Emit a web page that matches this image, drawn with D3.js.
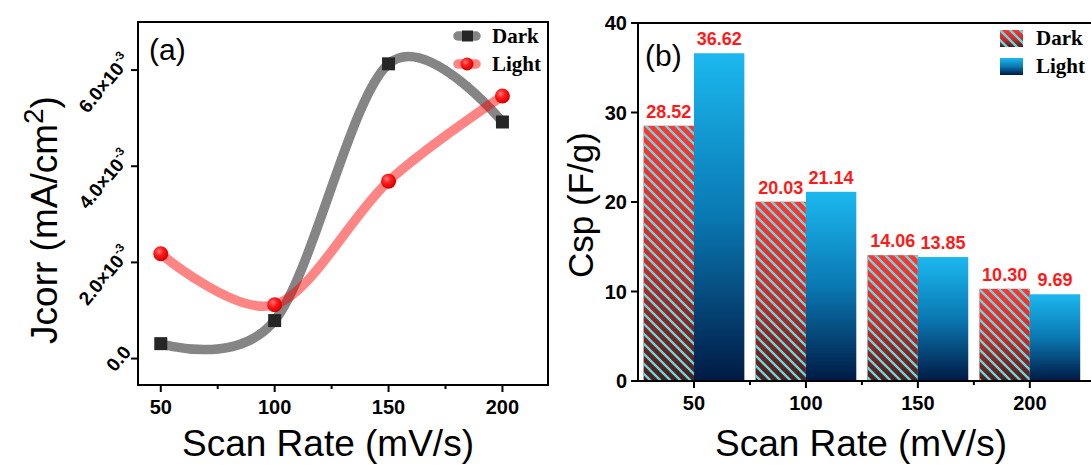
<!DOCTYPE html>
<html>
<head>
  <meta charset="utf-8">
  <title>Jcorr and Csp vs scan rate</title>
  <style>
  body {
    margin: 0;
    background: #fff;
  }
  text {
    font-family: "Liberation Sans", Arial, sans-serif;
  }
  .legend text {
    font-family: "Liberation Serif", "Times New Roman", serif;
    font-weight: bold;
  }
  .ticklabel {
    font-family: "Liberation Sans", Arial, sans-serif;
    font-weight: bold;
  }
</style>
</head>
<body>
  <div id="viz"></div>

  <script src="https://d3js.org/d3.v7.min.js"></script>
  <script>
    // values
    const scanRates = [50, 100, 150, 200];
    const minorRates = [75, 125, 175];
    const jcorrDark = [0.31e-3, 0.79e-3, 6.13e-3, 4.92e-3];
    const jcorrLight = [2.18e-3, 1.12e-3, 3.69e-3, 5.46e-3];
    const jTicks = [0, 2e-3, 4e-3, 6e-3];
    const jTickLabels = ["0.0", "2.0×10", "4.0×10", "6.0×10"];
    const cspDark = [28.52, 20.03, 14.06, 10.30];
    const cspLight = [36.62, 21.14, 13.85, 9.69];
    const cspTicks = [0, 10, 20, 30, 40];
    const seriesNames = ["Dark", "Light"];

    const svg = d3.select("#viz")
      .append("svg")
      .attr("width", 1091)
      .attr("height", 465);

    const defs = svg.append("defs");

    // gradients + hatch
    let redGrad = defs.append("linearGradient")
      .attr("id", "redGrad")
      .attr("x1", 0).attr("y1", 0).attr("x2", 0).attr("y2", 1);
    redGrad.append("stop").attr("offset", "0%").attr("stop-color", "#ff3535");
    redGrad.append("stop").attr("offset", "55%").attr("stop-color", "#c82a2a");
    redGrad.append("stop").attr("offset", "100%").attr("stop-color", "#4a1f1f");

    let blueGrad = defs.append("linearGradient")
      .attr("id", "blueGrad")
      .attr("x1", 0).attr("y1", 0).attr("x2", 0).attr("y2", 1);
    blueGrad.append("stop").attr("offset", "0%").attr("stop-color", "#1bb8ef");
    blueGrad.append("stop").attr("offset", "50%").attr("stop-color", "#0a78b2");
    blueGrad.append("stop").attr("offset", "100%").attr("stop-color", "#001a44");

    let hatch = defs.append("pattern")
      .attr("id", "hatch")
      .attr("patternUnits", "userSpaceOnUse")
      .attr("width", 10)
      .attr("height", 10);
    hatch.append("path")
      .attr("d", "M-1,-1 L11,11 M-1,9 L1,11 M9,-1 L11,1")
      .attr("stroke", "#62dcdc")
      .attr("stroke-width", 2.3);

    let ballGrad = defs.append("radialGradient")
      .attr("id", "ball")
      .attr("cx", "38%").attr("cy", "35%").attr("r", "65%");
    ballGrad.append("stop").attr("offset", "0%").attr("stop-color", "#ff7a7a");
    ballGrad.append("stop").attr("offset", "45%").attr("stop-color", "#ff1a1a");
    ballGrad.append("stop").attr("offset", "100%").attr("stop-color", "#d40000");

    // ---------- panel (a) ----------
    let xA = d3.scaleLinear().domain([40, 220]).range([138, 548]);
    let yA = d3.scaleLinear().domain([-0.55e-3, 7.0e-3]).range([385, 22]);

    let pa = svg.append("g");

    // x ticks
    pa.selectAll(".xmaj")
      .data(scanRates)
      .join("line")
      .attr("x1", d => xA(d)).attr("x2", d => xA(d))
      .attr("y1", 385).attr("y2", 392)
      .attr("stroke", "#000").attr("stroke-width", 2);
    pa.selectAll(".xmin")
      .data(minorRates)
      .join("line")
      .attr("x1", d => xA(d)).attr("x2", d => xA(d))
      .attr("y1", 385).attr("y2", 389)
      .attr("stroke", "#000").attr("stroke-width", 2);
    pa.selectAll(".xlab")
      .data(scanRates)
      .join("text")
      .attr("class", "ticklabel")
      .attr("x", d => xA(d))
      .attr("y", 414)
      .attr("text-anchor", "middle")
      .attr("font-size", 20)
      .text(d => d);

    // y ticks, rotated labels
    pa.selectAll(".ytick")
      .data(jTicks)
      .join("line")
      .attr("x1", 131).attr("x2", 138)
      .attr("y1", d => yA(d)).attr("y2", d => yA(d))
      .attr("stroke", "#000").attr("stroke-width", 2);
    let yl = pa.selectAll(".ylab")
      .data(jTicks)
      .join("text")
      .attr("class", "ticklabel")
      .attr("font-size", 19)
      .attr("text-anchor", "end")
      .attr("transform", d => `translate(132,${yA(d) - (d === 0 ? 6 : 9)}) rotate(-50)`);
    yl.append("tspan").text((d, i) => jTickLabels[i]);
    yl.filter(d => d !== 0)
      .append("tspan")
      .attr("font-size", 12)
      .attr("dy", -9)
      .text("-3");

    // curves
    let curve = d3.line()
      .x((d, i) => xA(scanRates[i]))
      .y(d => yA(d))
      .curve(d3.curveCardinal.tension(0));

    pa.append("path")
      .attr("d", curve(jcorrDark))
      .attr("fill", "none")
      .attr("stroke", "#000")
      .attr("stroke-opacity", 0.48)
      .attr("stroke-width", 9.5);
    pa.selectAll(".sq")
      .data(jcorrDark)
      .join("rect")
      .attr("x", (d, i) => xA(scanRates[i]) - 6.5)
      .attr("y", d => yA(d) - 6.5)
      .attr("width", 13).attr("height", 13)
      .attr("fill", "#262626");

    pa.append("path")
      .attr("d", curve(jcorrLight))
      .attr("fill", "none")
      .attr("stroke", "#ff0000")
      .attr("stroke-opacity", 0.48)
      .attr("stroke-width", 9.5);
    pa.selectAll(".ball")
      .data(jcorrLight)
      .join("circle")
      .attr("cx", (d, i) => xA(scanRates[i]))
      .attr("cy", d => yA(d))
      .attr("r", 7.5)
      .attr("fill", "url(#ball)");

    // frame
    pa.append("rect")
      .attr("x", 138).attr("y", 22)
      .attr("width", 410).attr("height", 363)
      .attr("fill", "none")
      .attr("stroke", "#000").attr("stroke-width", 2);

    pa.append("text")
      .attr("x", 149).attr("y", 60)
      .attr("font-size", 30)
      .text("(a)");

    // legend (a)
    let lgA = pa.append("g").attr("class", "legend");
    seriesNames.forEach((name, i) => {
      let y = 36 + i * 28;
      lgA.append("line")
        .attr("x1", 458).attr("x2", 476)
        .attr("y1", y).attr("y2", y)
        .attr("stroke", i === 0 ? "#000" : "#ff0000")
        .attr("stroke-opacity", 0.48)
        .attr("stroke-width", 9.5)
        .attr("stroke-linecap", "round");
      if (i === 0) {
        lgA.append("rect")
          .attr("x", 462).attr("y", y - 5.5)
          .attr("width", 11).attr("height", 11)
          .attr("fill", "#262626");
      } else {
        lgA.append("circle")
          .attr("cx", 467).attr("cy", y)
          .attr("r", 6.5)
          .attr("fill", "url(#ball)");
      }
      lgA.append("text")
        .attr("x", 492).attr("y", y + 7)
        .attr("font-size", 21)
        .text(name);
    });

    // axis titles (a)
    pa.append("text")
      .attr("x", 328).attr("y", 456)
      .attr("text-anchor", "middle")
      .attr("font-size", 37)
      .text("Scan Rate (mV/s)");
    let tA = pa.append("text")
      .attr("transform", "translate(57,220) rotate(-90)")
      .attr("text-anchor", "middle")
      .attr("font-size", 37);
    tA.append("tspan").text("Jcorr (mA/cm");
    tA.append("tspan").attr("font-size", 28).attr("dy", -14).text("2");
    tA.append("tspan").attr("dy", 14).text(")");

    // ---------- panel (b) ----------
    let xB = d3.scaleLinear().domain([25, 230]).range([638, 1097]);
    let yB = d3.scaleLinear().domain([0, 40]).range([381, 23]);
    let halfW = 22.5;

    let pb = svg.append("g");

    scanRates.forEach((r, i) => {
      let x0 = xB(r - halfW);
      let w = xB(r) - x0;
      // dark: gradient + hatch
      pb.append("rect")
        .attr("x", x0).attr("y", yB(cspDark[i]))
        .attr("width", w).attr("height", yB(0) - yB(cspDark[i]))
        .attr("fill", "url(#redGrad)");
      pb.append("rect")
        .attr("x", x0).attr("y", yB(cspDark[i]))
        .attr("width", w).attr("height", yB(0) - yB(cspDark[i]))
        .attr("fill", "url(#hatch)");
      // light
      pb.append("rect")
        .attr("x", xB(r)).attr("y", yB(cspLight[i]))
        .attr("width", xB(r + halfW) - xB(r)).attr("height", yB(0) - yB(cspLight[i]))
        .attr("fill", "url(#blueGrad)");
    });

    let labelsB = [];
    scanRates.forEach((r, i) => {
      labelsB.push({x: r - halfW / 2, v: cspDark[i]});
      labelsB.push({x: r + halfW / 2, v: cspLight[i]});
    });
    pb.selectAll(".vlab")
      .data(labelsB)
      .join("text")
      .attr("class", "ticklabel")
      .attr("x", d => xB(d.x))
      .attr("y", d => yB(d.v) - 8)
      .attr("text-anchor", "middle")
      .attr("font-size", 18)
      .attr("fill", "#ff1a1a")
      .text(d => d.v.toFixed(2));

    // axes
    pb.selectAll(".xmaj")
      .data(scanRates)
      .join("line")
      .attr("x1", d => xB(d)).attr("x2", d => xB(d))
      .attr("y1", 381).attr("y2", 388)
      .attr("stroke", "#000").attr("stroke-width", 2);
    pb.selectAll(".xmin")
      .data(minorRates)
      .join("line")
      .attr("x1", d => xB(d)).attr("x2", d => xB(d))
      .attr("y1", 381).attr("y2", 385)
      .attr("stroke", "#000").attr("stroke-width", 2);
    pb.selectAll(".xlab")
      .data(scanRates)
      .join("text")
      .attr("class", "ticklabel")
      .attr("x", d => xB(d))
      .attr("y", 410)
      .attr("text-anchor", "middle")
      .attr("font-size", 20)
      .text(d => d);

    pb.selectAll(".ytick")
      .data(cspTicks)
      .join("line")
      .attr("x1", 631).attr("x2", 638)
      .attr("y1", d => yB(d)).attr("y2", d => yB(d))
      .attr("stroke", "#000").attr("stroke-width", 2);
    pb.selectAll(".ylab")
      .data(cspTicks)
      .join("text")
      .attr("class", "ticklabel")
      .attr("x", 627)
      .attr("y", d => yB(d) + 7)
      .attr("text-anchor", "end")
      .attr("font-size", 20)
      .text(d => d);

    pb.append("rect")
      .attr("x", 638).attr("y", 23)
      .attr("width", 460).attr("height", 358)
      .attr("fill", "none")
      .attr("stroke", "#000").attr("stroke-width", 2);

    pb.append("text")
      .attr("x", 645).attr("y", 66)
      .attr("font-size", 30)
      .text("(b)");

    // legend (b)
    let lgB = pb.append("g").attr("class", "legend");
    seriesNames.forEach((name, i) => {
      let y = 30 + i * 28;
      if (i === 0) {
        lgB.append("rect").attr("x", 1000).attr("y", y).attr("width", 23).attr("height", 17).attr("fill", "url(#redGrad)");
        lgB.append("rect").attr("x", 1000).attr("y", y).attr("width", 23).attr("height", 17).attr("fill", "url(#hatch)");
      } else {
        lgB.append("rect").attr("x", 1000).attr("y", y).attr("width", 23).attr("height", 17).attr("fill", "url(#blueGrad)");
      }
      lgB.append("text")
        .attr("x", 1036).attr("y", y + 15)
        .attr("font-size", 21)
        .text(name);
    });

    pb.append("text")
      .attr("x", 861).attr("y", 456)
      .attr("text-anchor", "middle")
      .attr("font-size", 37)
      .text("Scan Rate (mV/s)");
    pb.append("text")
      .attr("transform", "translate(593,205) rotate(-90)")
      .attr("text-anchor", "middle")
      .attr("font-size", 35)
      .text("Csp (F/g)");
  </script>
</body>
</html>
